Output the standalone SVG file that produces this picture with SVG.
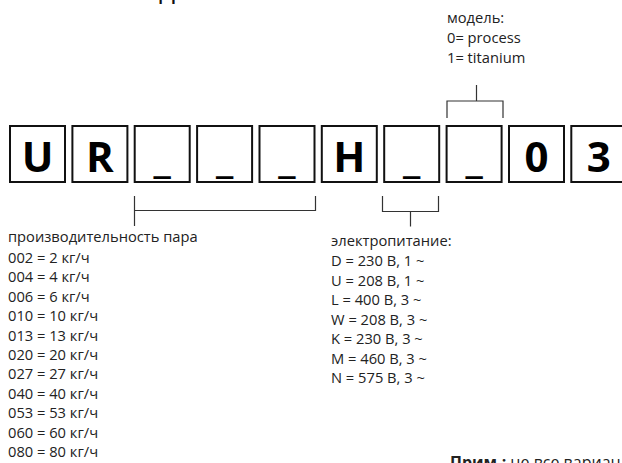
<svg xmlns="http://www.w3.org/2000/svg" width="622" height="463" viewBox="0 0 622 463">
<style>
.box rect{fill:#fff;stroke:#111;stroke-width:2}
.box text{font-family:"Open Sans","Noto Sans",sans-serif;font-weight:bold;font-size:42px;fill:#000;text-anchor:middle}
.lbl{font-family:"Open Sans","Noto Sans",sans-serif;font-size:14.7px;fill:#222}
.note{font-size:16px}
.conn path{fill:none;stroke:#333;stroke-width:1.2}
</style>
<rect width="622" height="463" fill="#fff"/>
<text x="159" y="-1" font-family="Open Sans, Noto Sans, sans-serif" font-size="28" fill="#111">д</text>
<g id="box1" class="box"><rect x="10" y="126" width="55" height="56"/><text x="37.5" y="171.5">U</text></g>
<g id="box2" class="box"><rect x="72.4" y="126" width="55" height="56"/><text x="99.9" y="171.5">R</text></g>
<g id="box3" class="box"><rect x="134.7" y="126" width="55" height="56"/><text x="162.2" y="171.5">_</text></g>
<g id="box4" class="box"><rect x="197.1" y="126" width="55" height="56"/><text x="224.6" y="171.5">_</text></g>
<g id="box5" class="box"><rect x="259.5" y="126" width="55" height="56"/><text x="287" y="171.5">_</text></g>
<g id="box6" class="box"><rect x="321.8" y="126" width="55" height="56"/><text x="349.3" y="171.5">H</text></g>
<g id="box7" class="box"><rect x="384.2" y="126" width="55" height="56"/><text x="411.7" y="171.5">_</text></g>
<g id="box8" class="box"><rect x="446.6" y="126" width="55" height="56"/><text x="474.1" y="171.5">_</text></g>
<g id="box9" class="box"><rect x="509" y="126" width="55" height="56"/><text x="536.5" y="171.5">0</text></g>
<g id="box10" class="box"><rect x="571.3" y="126" width="55" height="56"/><text x="598.8" y="171.5">3</text></g>
<g id="connectors" class="conn">
<path d="M134.5 196 V226 M134.5 210.5 H315.5 V196"/>
<path d="M382.5 196 V211.5 H438.5 V196 M410.5 211.5 V226.5"/>
<path d="M447 118 V101 H503 V118 M476.5 101 V85"/>
</g>
<g id="model-label" class="lbl">
<text x="447" y="23">модель:</text>
<text x="447" y="43">0= process</text>
<text x="447" y="63">1= titanium</text>
</g>
<g id="capacity-label" class="lbl">
<text x="8" y="242">производительность пара</text>
<text x="8" y="263">002 = 2 кг/ч</text>
<text x="8" y="282.4">004 = 4 кг/ч</text>
<text x="8" y="301.8">006 = 6 кг/ч</text>
<text x="8" y="321.2">010 = 10 кг/ч</text>
<text x="8" y="340.6">013 = 13 кг/ч</text>
<text x="8" y="360">020 = 20 кг/ч</text>
<text x="8" y="379.4">027 = 27 кг/ч</text>
<text x="8" y="398.8">040 = 40 кг/ч</text>
<text x="8" y="418.2">053 = 53 кг/ч</text>
<text x="8" y="437.6">060 = 60 кг/ч</text>
<text x="8" y="457">080 = 80 кг/ч</text>
</g>
<g id="power-label" class="lbl">
<text x="331" y="246">электропитание:</text>
<text x="331" y="266">D = 230 В, 1 ~</text>
<text x="331" y="285.5">U = 208 В, 1 ~</text>
<text x="331" y="305">L = 400 В, 3 ~</text>
<text x="331" y="324.5">W = 208 В, 3 ~</text>
<text x="331" y="344">K = 230 В, 3 ~</text>
<text x="331" y="363.5">M = 460 В, 3 ~</text>
<text x="331" y="383">N = 575 В, 3 ~</text>
</g>
<text id="note" class="lbl note" x="450" y="467.5"><tspan font-weight="bold">Прим.:</tspan> не все вариан</text>
</svg>
